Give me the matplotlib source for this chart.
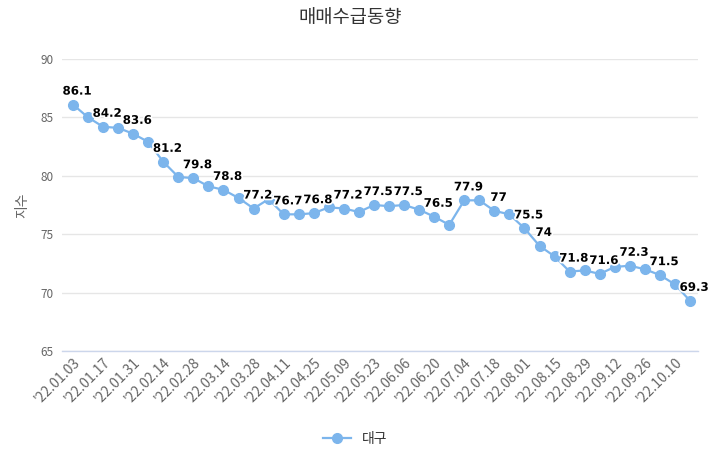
import matplotlib
matplotlib.use("Agg")
import matplotlib.pyplot as plt
import matplotlib.patheffects as pe
from matplotlib.lines import Line2D

plt.rcParams['font.family'] = ['Noto Sans CJK KR', 'DejaVu Sans']

title = "매매수급동향"
series_name = "대구"
y_label = "지수"

dates = ["'22.01.03", "'22.01.10", "'22.01.17", "'22.01.24", "'22.01.31", "'22.02.07",
         "'22.02.14", "'22.02.21", "'22.02.28", "'22.03.07", "'22.03.14", "'22.03.21",
         "'22.03.28", "'22.04.04", "'22.04.11", "'22.04.18", "'22.04.25", "'22.05.02",
         "'22.05.09", "'22.05.16", "'22.05.23", "'22.05.30", "'22.06.06", "'22.06.13",
         "'22.06.20", "'22.06.27", "'22.07.04", "'22.07.11", "'22.07.18", "'22.07.25",
         "'22.08.01", "'22.08.08", "'22.08.15", "'22.08.22", "'22.08.29", "'22.09.05",
         "'22.09.12", "'22.09.19", "'22.09.26", "'22.10.03", "'22.10.10", "'22.10.17"]

values = [86.1, 85.0, 84.2, 84.1, 83.6, 82.9, 81.2, 79.9, 79.8, 79.1, 78.8, 78.1,
          77.2, 78.0, 76.7, 76.7, 76.8, 77.3, 77.2, 76.9, 77.5, 77.4, 77.5, 77.1,
          76.5, 75.8, 77.9, 77.9, 77.0, 76.7, 75.5, 74.0, 73.1, 71.8, 71.9, 71.6,
          72.2, 72.3, 72.0, 71.5, 70.7, 69.3]

labeled_idx = [0, 2, 4, 6, 8, 10, 12, 14, 16, 18, 20, 22, 24, 26, 28, 30,
               31, 33, 35, 37, 39, 41]

y_ticks = [65, 70, 75, 80, 85, 90]

color = '#7cb5ec'

fig = plt.figure(figsize=(7.1, 4.53), dpi=100)
ax = fig.add_axes([62/710, 1-351/453, (698-62)/710, (351-59)/453])

x = list(range(len(values)))
ax.plot(x, values, color=color, lw=1.6, marker='o', markersize=7,
        markerfacecolor=color, markeredgecolor=color, zorder=3, clip_on=False)

for i in labeled_idx:
    ax.annotate(f"{values[i]:g}", (x[i], values[i]), xytext=(3, 5),
                textcoords='offset points', ha='center', va='bottom',
                fontsize=8.5, fontweight='bold', color='#000000', zorder=4,
                family=['DejaVu Sans'],
                path_effects=[pe.withStroke(linewidth=2.5, foreground='white')])

ax.set_xlim(-0.73, len(values) - 1 + 0.53)
ax.set_ylim(65, 90)
ax.set_yticks(y_ticks)
ax.set_yticklabels([str(v) for v in y_ticks], fontsize=8.5, color='#666666')

ax.set_xticks(x[::2])
ax.set_xticklabels(dates[::2], rotation=45, ha='right', va='top',
                   rotation_mode='anchor', fontsize=10, color='#666666')

ax.grid(axis='y', color='#e6e6e6', lw=1)
ax.set_axisbelow(True)
for s in ['top', 'right', 'left']:
    ax.spines[s].set_visible(False)
ax.spines['bottom'].set_color('#ccd6eb')
ax.spines['bottom'].set_linewidth(1)
ax.tick_params(axis='both', length=0, pad=6)
ax.tick_params(axis='x', pad=3)

ax.set_ylabel(y_label, fontsize=10, color='#666666', labelpad=8)

fig.text(0.493, 1-18/453, title, ha='center', va='center', fontsize=13.5, color='#333333')

handle = Line2D([], [], color=color, lw=1.6, marker='o', markersize=7)
fig.legend([handle], [series_name], loc='center', bbox_to_anchor=(0.5, 1-439/453),
           frameon=False, fontsize=10, handlelength=2.0, labelcolor='#333333')

fig.savefig('out.png', dpi=100)
